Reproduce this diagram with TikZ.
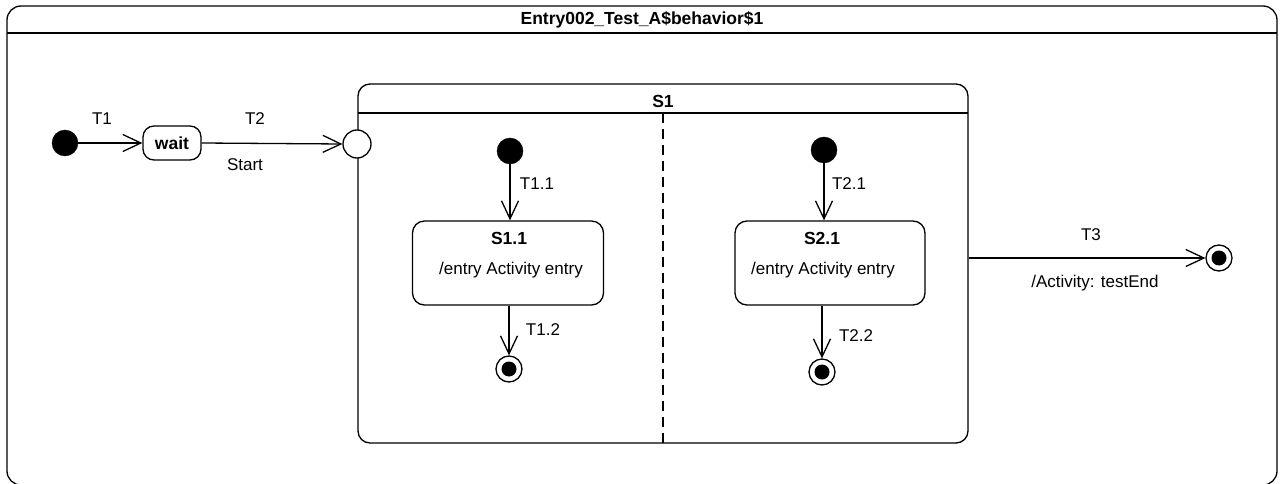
\documentclass[tikz,border=0pt]{standalone}
\usepackage{fontspec}
\setmainfont{Liberation Sans}
\usetikzlibrary{arrows.meta}
\begin{document}
\begin{tikzpicture}[x=1pt,y=-1pt,
  every node/.style={font=\fontsize{17}{19}\selectfont},
  ln/.style={line width=1.3pt},
  tr/.style={ln,-{Straight Barb[length=18pt,width=17pt,line width=1.3pt]}},
  initst/.style={circle,fill=black,draw=black,minimum size=26pt,inner sep=0pt},
  finst/.style={circle,draw=black,ln,fill=white,minimum size=26pt,inner sep=0pt,
     path picture={\fill[black] (path picture bounding box.center) circle (7.5pt);}},
  statebox/.style={draw,ln,rounded corners=12pt,fill=white},
  lbl/.style={inner sep=1pt},
  bold/.style={font=\fontsize{17.5}{19}\selectfont\bfseries}]
\useasboundingbox (0,0) rectangle (1282,484);
% outer frame
\draw[ln,rounded corners=14pt] (7,485) -- (7,6) -- (1277,6) -- (1277,485) -- cycle;
\coordinate (hl) at (7,33);
\coordinate (hr) at (1277,33);
\draw[ln] (hl) -- (hr);
\node[bold] (title) at (642,20) {Entry002\_Test\_A\$behavior\$1};
% S1 composite
\node[statebox,minimum width=610pt,minimum height=359pt,inner sep=0pt] (S1) at (663,263.5) {};
\coordinate (s1hl) at (358,113);
\coordinate (s1hr) at (968,113);
\draw[ln] (s1hl) -- (s1hr);
\node[bold] (S1t) at (663,101) {S1};
\coordinate (dtop) at (663,113);
\coordinate (dbot) at (663,443);
\draw[ln,dash pattern=on 10pt off 6pt] (dtop) -- (dbot);
% left part
\node[initst] (i0) at (65,143) {};
\node[statebox,minimum width=58pt,minimum height=34pt,inner sep=0pt,rounded corners=11pt] (wait) at (172,143) {};
\node[bold] at (wait.center) {wait};
\node[circle,draw,ln,fill=white,minimum size=28pt,inner sep=0pt] (ep) at (357,144) {};
\draw[tr] (i0) -- (wait);
\draw[tr] (wait.east) -- (ep.west);
\node[lbl] (T1) at (102,119) {T1};
\node[lbl] (T2) at (255,119) {T2};
\node[lbl] (start) at (245,165) {Start};
% region 1
\node[initst] (i1) at (510,151) {};
\node[statebox,minimum width=191pt,minimum height=84pt,inner sep=0pt] (S11) at (508,263) {};
\node[bold] (S11t) at (509,238) {S1.1};
\node (S11e) at (511,270) {/entry Activity entry};
\node[finst] (f1) at (509,369) {};
\draw[tr] (i1) -- (i1 |- S11.north);
\draw[tr] (S11.south -| f1) -- (f1);
\node[lbl] (T11) at (537,184) {T1.1};
\node[lbl] (T12) at (543,330) {T1.2};
% region 2
\node[initst] (i2) at (824,150) {};
\node[statebox,minimum width=190pt,minimum height=84pt,inner sep=0pt] (S21) at (830,263) {};
\node[bold] (S21t) at (822,238) {S2.1};
\node (S21e) at (823,270) {/entry Activity entry};
\node[finst] (f2) at (822,372) {};
\draw[tr] (i2) -- (i2 |- S21.north);
\draw[tr] (S21.south -| f2) -- (f2);
\node[lbl] (T21) at (849,184) {T2.1};
\node[lbl] (T22) at (856,336) {T2.2};
% T3
\node[finst] (f3) at (1219,258) {};
\draw[tr] (S1.east |- f3) -- (f3);
\node[lbl] (T3) at (1091,235) {T3};
\node[lbl] (act) at (1095,283) {/Activity: testEnd};
\end{tikzpicture}
\end{document}
